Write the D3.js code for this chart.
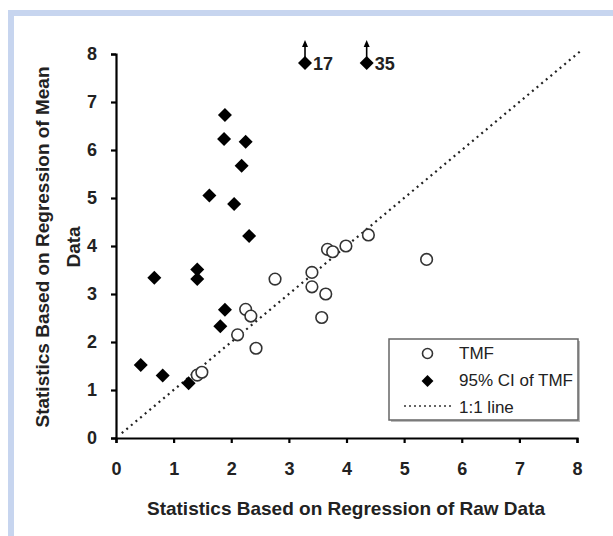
<!DOCTYPE html>
<html>
  <head>
    <script type="text/javascript" src="https://d3js.org/d3.v7.min.js"></script>
    <style>
      body { margin:0; background:#fff; }
      text { font-family: "Liberation Sans", Arial, sans-serif; }
    </style>
  </head>
  <body>
  </body>
  <script>

// TMF (open circles)
var tmfX = [1.41, 1.49, 2.11, 2.25, 2.34, 2.43, 2.76, 3.40, 3.40, 3.64, 3.57, 3.67, 3.76, 3.99, 4.38, 5.39];
var tmfY = [1.31, 1.37, 2.15, 2.68, 2.54, 1.87, 3.31, 3.45, 3.15, 3.00, 2.51, 3.93, 3.88, 4.00, 4.23, 3.72];

// 95% CI of TMF (filled diamonds); 17 and 35 are off the scale
var ciX = [1.89, 1.875, 2.25, 2.18, 1.62, 2.05, 2.31, 0.665, 1.41, 1.41, 1.89, 1.81, 0.43, 0.81, 1.26, 3.28, 4.35];
var ciY = [6.73, 6.23, 6.17, 5.67, 5.05, 4.875, 4.21, 3.34, 3.51, 3.31, 2.67, 2.33, 1.52, 1.30, 1.14, 17, 35];

var ticks = [0, 1, 2, 3, 4, 5, 6, 7, 8];
var legendLabels = ["TMF", "95% CI of TMF", "1:1 line"];
var capY = 7.81; // where off-scale points are drawn

var W = 613, H = 536;
var svg = d3.select("body").append("svg").attr("width", W).attr("height", H);

// light blue frame
svg.append("rect").attr("x", 8).attr("y", 10).attr("width", W - 8).attr("height", 6).attr("fill", "#c7d5ef");
svg.append("rect").attr("x", 8).attr("y", 10).attr("width", 6).attr("height", H - 10).attr("fill", "#c7d5ef");

var x = d3.scaleLinear().domain([0, 8]).range([116, 577]);
var y = d3.scaleLinear().domain([0, 8]).range([438, 54]);

// 1:1 line
svg.append("line")
  .attr("x1", x(0.1)).attr("y1", y(0.1)).attr("x2", x(8.05)).attr("y2", y(8.05))
  .attr("stroke", "#222").attr("stroke-width", 2.2).attr("stroke-dasharray", "2,4");

var xAxis = svg.append("g").attr("transform", "translate(0," + y(0) + ")")
  .call(d3.axisBottom(x).tickValues(ticks).tickSize(5).tickPadding(19));
var yAxis = svg.append("g").attr("transform", "translate(" + x(0) + ",0)")
  .call(d3.axisLeft(y).tickValues(ticks).tickSize(5).tickPadding(14));

[xAxis, yAxis].forEach(function(a){
  a.selectAll("path, line").attr("stroke", "#000").attr("stroke-width", 2.2);
  a.selectAll("text").attr("font-size", 18).attr("font-weight", "bold").attr("fill", "#222")
    .style("font-family", "'Liberation Sans', Arial, sans-serif");
});

// axis titles
svg.append("text").attr("x", 346).attr("y", 515).attr("text-anchor", "middle")
  .attr("font-size", 19).attr("font-weight", "bold").attr("fill", "#222")
  .text("Statistics Based on Regression of Raw Data");

var yt = svg.append("text").attr("transform", "translate(49,247) rotate(-90)")
  .attr("text-anchor", "middle").attr("font-size", 19).attr("font-weight", "bold").attr("fill", "#222");
yt.append("tspan").attr("x", 0).attr("y", 0).text("Statistics Based on Regression of Mean");
yt.append("tspan").attr("x", 0).attr("y", 31).text("Data");

var diamondPath = "M0,-7L7,0L0,7L-7,0Z";

// CI diamonds
var ci = ciX.map(function(v, i){ return {x: v, y: ciY[i]}; });
svg.selectAll("path.ci").data(ci).enter().append("path").attr("class", "ci")
  .attr("d", diamondPath)
  .attr("transform", function(d){ return "translate(" + x(d.x) + "," + y(Math.min(d.y, capY)) + ")"; })
  .attr("fill", "#000");

// off-scale markers
var off = ci.filter(function(d){ return d.y > 8; });
var og = svg.selectAll("g.off").data(off).enter().append("g").attr("class", "off")
  .attr("transform", function(d){ return "translate(" + x(d.x) + "," + y(capY) + ")"; });
og.append("line").attr("x1", 0).attr("x2", 0).attr("y1", -6).attr("y2", -19)
  .attr("stroke", "#000").attr("stroke-width", 1.6);
og.append("path").attr("d", "M-3,-16L0,-23L3,-16Z").attr("fill", "#000");
og.append("text").attr("x", 8).attr("y", 7).attr("font-size", 18).attr("font-weight", "bold").attr("fill", "#222")
  .text(function(d){ return d.y; });

// TMF circles
var tmf = tmfX.map(function(v, i){ return {x: v, y: tmfY[i]}; });
svg.selectAll("circle.tmf").data(tmf).enter().append("circle").attr("class", "tmf")
  .attr("cx", function(d){ return x(d.x); })
  .attr("cy", function(d){ return y(d.y); })
  .attr("r", 5.8).attr("fill", "#fff").attr("stroke", "#333").attr("stroke-width", 1.6);

// legend
var lg = svg.append("g").attr("transform", "translate(389,339)");
lg.append("rect").attr("x", 2).attr("y", 2).attr("width", 189).attr("height", 81).attr("fill", "#bbb");
lg.append("rect").attr("width", 189).attr("height", 81).attr("fill", "#fff").attr("stroke", "#666").attr("stroke-width", 1.5);
lg.append("circle").attr("cx", 38.5).attr("cy", 14.5).attr("r", 5).attr("fill", "#fff").attr("stroke", "#333").attr("stroke-width", 1.6);
lg.append("path").attr("d", diamondPath).attr("transform", "translate(38.5,42) scale(0.85)").attr("fill", "#000");
lg.append("line").attr("x1", 15).attr("x2", 62).attr("y1", 67).attr("y2", 67)
  .attr("stroke", "#333").attr("stroke-width", 1.5).attr("stroke-dasharray", "2,3");
lg.selectAll("text").data(legendLabels).enter().append("text")
  .attr("x", 70).attr("y", function(d, i){ return 20 + i * 27; })
  .attr("font-size", 17).attr("fill", "#222").text(function(d){ return d; });

  </script>
</html>
